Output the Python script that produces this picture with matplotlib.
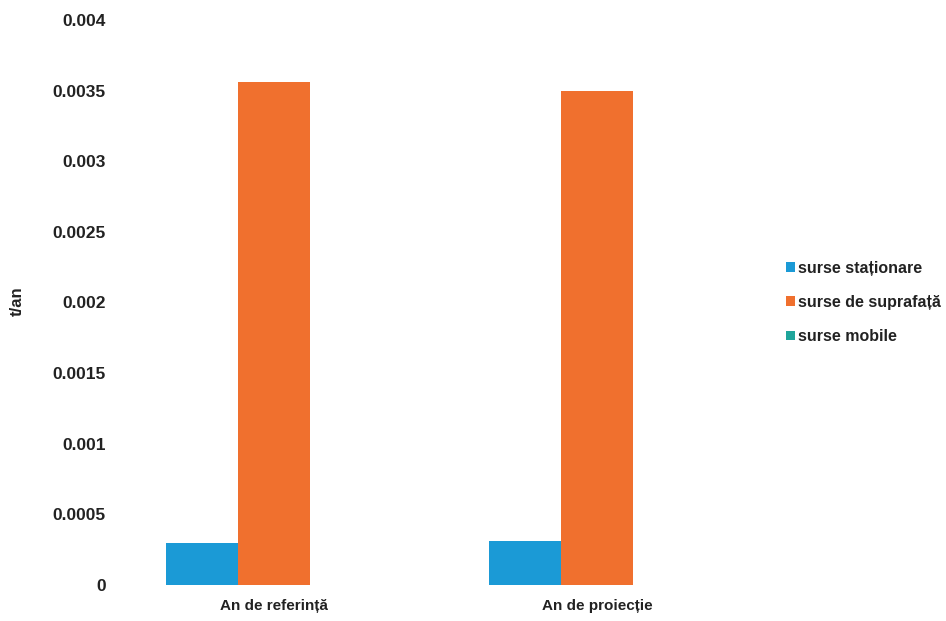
import matplotlib
matplotlib.use("Agg")
import matplotlib.pyplot as plt
import numpy as np

categories = ["An de referință", "An de proiecție"]
series_names = ["surse staționare", "surse de suprafață", "surse mobile"]
stationary = [0.00030, 0.00031]
surface = [0.00356, 0.00350]
mobile = [0.0, 0.0]
yticks = [0, 0.0005, 0.001, 0.0015, 0.002, 0.0025, 0.003, 0.0035, 0.004]
ytick_labels = ["0", "0.0005", "0.001", "0.0015", "0.002", "0.0025", "0.003", "0.0035", "0.004"]

colors = ["#1b9ad6", "#f0702e", "#1fa59b"]

plt.rcParams['font.family'] = ['Liberation Sans', 'DejaVu Sans']

fig = plt.figure(figsize=(9.46, 6.21), dpi=100)
ax = fig.add_axes([0.119, 0.058, 0.683, 0.910])

x = np.arange(len(categories))
w = 0.223
for i, (vals, name) in enumerate(zip([stationary, surface, mobile], series_names)):
    ax.bar(x + (i - 1) * w, vals, width=w, color=colors[i], label=name)

ax.set_xlim(-0.5, 1.5)
ax.set_ylim(0, 0.004)
ax.set_yticks(yticks)
ax.set_yticklabels(ytick_labels, fontsize=12.5, fontweight='bold', color='#222222')
ax.set_xticks(x)
ax.set_xticklabels(categories, fontsize=11, fontweight='bold', color='#222222')
ax.tick_params(axis='both', length=0)
ax.tick_params(axis='y', pad=5)
ax.tick_params(axis='x', pad=10)
for s in ax.spines.values():
    s.set_visible(False)

fig.text(0.018, 0.515, "t/an", rotation=90, fontsize=12, fontweight='bold',
         color='#222222', ha='center', va='center')

leg = ax.legend(loc='center left', bbox_to_anchor=(1.03, 0.50), frameon=False,
                prop={'weight': 'bold', 'size': 11.5}, handlelength=0.55, handleheight=0.55,
                handletextpad=0.2, labelspacing=1.2, borderpad=0)
for t in leg.get_texts():
    t.set_color('#222222')

fig.savefig("out.png", dpi=100)
